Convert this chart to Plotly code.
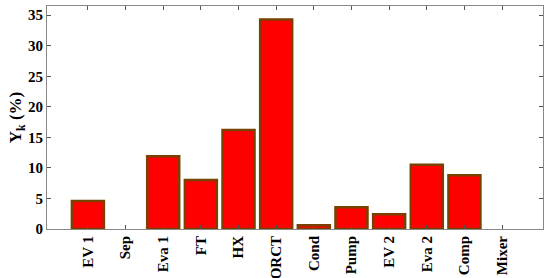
import plotly.graph_objects as go

# components and exergy destruction ratio
components = ['EV 1', 'Sep', 'Eva 1', 'FT', 'HX', 'ORCT', 'Cond', 'Pump',
              'EV 2', 'Eva 2', 'Comp', 'Mixer']
yk = [4.6, 0.0, 11.9, 8.0, 16.2, 34.3, 0.6, 3.55, 2.4, 10.5, 8.8, 0.0]
positions = list(range(1, len(components) + 1))
y_ticks = [0, 5, 10, 15, 20, 25, 30, 35]

font = dict(family='"Liberation Serif", "Times New Roman", serif', color='black')

# no outline for empty bars
edge_w = [2.5 if v > 0 else 0 for v in yk]

fig = go.Figure()
fig.add_trace(go.Bar(
    x=positions, y=yk, width=0.85,
    marker=dict(color='#ff0000', line=dict(color='#7a4000', width=edge_w)),
))

fig.update_layout(
    width=550, height=278,
    margin=dict(l=47, r=7, t=6, b=49, autoexpand=False),
    plot_bgcolor='white', paper_bgcolor='white',
    showlegend=False,
    font=font,
)
fig.update_xaxes(
    range=[-0.086, len(components) + 1.086],
    tickmode='array', tickvals=positions,
    ticktext=['<b>%s</b>' % c for c in components],
    tickangle=-90, tickfont=dict(size=15, **font),
    ticks='inside', ticklen=4, tickcolor='#555',
    showline=True, linecolor='#888', linewidth=1, mirror='ticks',
    showgrid=False, zeroline=False, automargin=False,
)
fig.update_yaxes(
    range=[0, 36.5],
    tickmode='array', tickvals=y_ticks,
    ticktext=['<b>%d</b>' % v for v in y_ticks],
    tickfont=dict(size=15, **font),
    ticks='inside', ticklen=4, tickcolor='#555',
    showline=True, linecolor='#888', linewidth=1, mirror='ticks',
    showgrid=False, zeroline=False, automargin=False,
    title=dict(text='<b>Y<sub>k</sub> (%)</b>', font=dict(size=17, **font), standoff=0),
)

# page body has a default margin; drop it so the figure sits at 0,0
fig.write_html('out.html', config={'displayModeBar': False},
               post_script="document.body.style.margin='0';")
